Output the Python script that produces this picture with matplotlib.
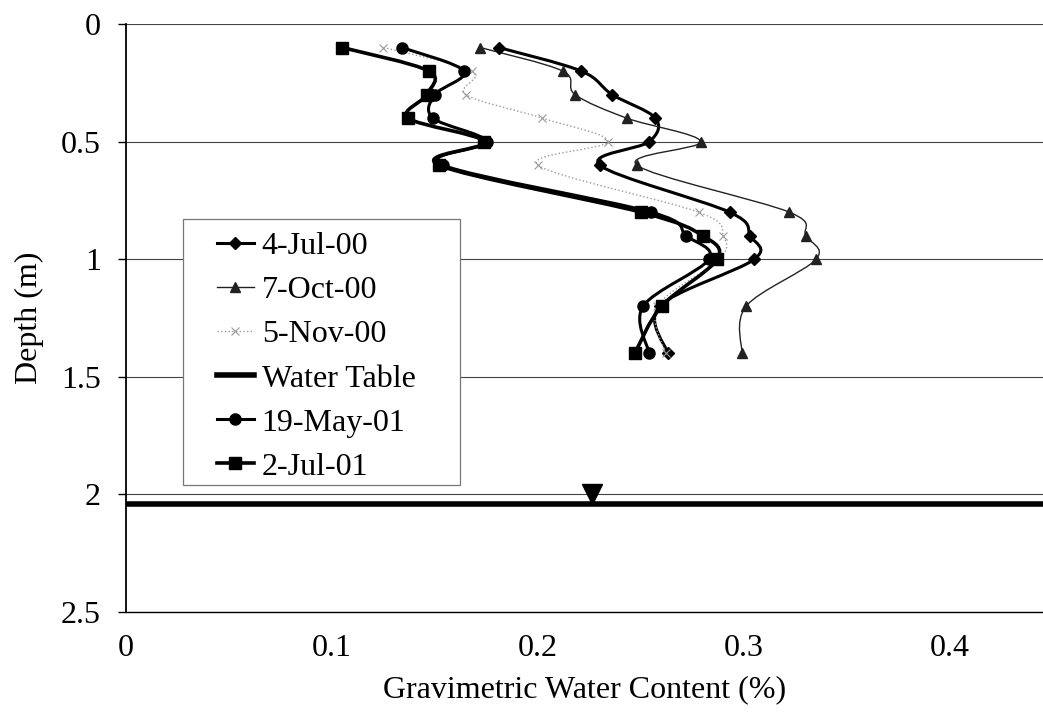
import matplotlib.pyplot as plt
import numpy as np
from matplotlib.path import Path
from matplotlib.patches import PathPatch, Rectangle
from matplotlib.lines import Line2D

plt.rcParams['font.family'] = ['Liberation Serif', 'DejaVu Serif']

# sampling depths (m) and gravimetric water content for each survey
depth = [0.1, 0.2, 0.3, 0.4, 0.5, 0.6, 0.8, 0.9, 1.0, 1.2, 1.4]
jul_00 = [0.181, 0.221, 0.236, 0.257, 0.254, 0.230, 0.293, 0.303, 0.305, 0.259, 0.263]
oct_00 = [0.172, 0.212, 0.218, 0.243, 0.279, 0.248, 0.322, 0.330, 0.335, 0.301, 0.299]
nov_00 = [0.125, 0.168, 0.165, 0.202, 0.234, 0.200, 0.278, 0.290, 0.288, 0.258, 0.262]
may_01 = [0.134, 0.164, 0.150, 0.149, 0.175, 0.154, 0.255, 0.272, 0.283, 0.251, 0.254]
jul_01 = [0.105, 0.147, 0.146, 0.137, 0.174, 0.152, 0.250, 0.280, 0.287, 0.260, 0.247]

water_table_depth = 2.04
water_table_symbol = (0.226, 2.0)

x_ticks = [0, 0.1, 0.2, 0.3, 0.4]
x_tick_labels = ['0', '0.1', '0.2', '0.3', '0.4']
y_ticks = [0, 0.5, 1, 1.5, 2, 2.5]
y_tick_labels = ['0', '0.5', '1', '1.5', '2', '2.5']


def smooth_path(x, y):
    # smoothed line through the points (Catmull-Rom as cubic Bezier segments)
    pts = np.column_stack([x, y])
    n = len(pts)
    verts = [pts[0]]
    codes = [Path.MOVETO]
    for i in range(n - 1):
        p0 = pts[max(i - 1, 0)]
        p1 = pts[i]
        p2 = pts[i + 1]
        p3 = pts[min(i + 2, n - 1)]
        verts += [p1 + (p2 - p0) / 6, p2 - (p3 - p1) / 6, p2]
        codes += [Path.CURVE4] * 3
    return Path(verts, codes)


series = [
    ('4-Jul-00', jul_00, dict(color='black', lw=2.2, ls='-'), dict(marker='D', ms=6)),
    ('7-Oct-00', oct_00, dict(color='#222222', lw=1.0, ls='-'), dict(marker='^', ms=7)),
    ('5-Nov-00', nov_00, dict(color='#9a9a9a', lw=1.0, ls=':'), dict(marker='x', ms=6, mew=0.8)),
    ('19-May-01', may_01, dict(color='black', lw=2.2, ls='-'), dict(marker='o', ms=8)),
    ('2-Jul-01', jul_01, dict(color='black', lw=2.6, ls='-'), dict(marker='s', ms=8)),
]

fig = plt.figure(figsize=(10.43, 7.17), dpi=100)
ax = fig.add_axes([0.1208, 0.1464, 0.8888, 0.8201])

handles = {}
for name, values, line_kw, mark_kw in series:
    patch = PathPatch(smooth_path(values, depth), facecolor='none', edgecolor=line_kw['color'],
                      lw=line_kw['lw'], ls=line_kw['ls'], zorder=3)
    ax.add_patch(patch)
    ax.plot(values, depth, ls='none', color=line_kw['color'], zorder=4, **mark_kw)
    handles[name] = Line2D([], [], color=line_kw['color'], lw=line_kw['lw'], ls=line_kw['ls'],
                           **mark_kw)

# water table
ax.axhline(water_table_depth, color='black', lw=4, zorder=3)
ax.plot([water_table_symbol[0]], [water_table_symbol[1]], ls='none', marker='v', ms=14,
        color='black', zorder=4)
handles['Water Table'] = Line2D([], [], color='black', lw=4)

ax.set_xlim(0, 0.45)
ax.set_ylim(2.5, 0)
ax.set_xticks(x_ticks)
ax.set_xticklabels(x_tick_labels)
ax.set_yticks(y_ticks)
ax.set_yticklabels(y_tick_labels)
ax.tick_params(axis='x', length=0, pad=16, labelsize=23)
ax.tick_params(axis='y', direction='out', length=6, width=1, pad=12, labelsize=23)
ax.yaxis.grid(True, color='#444444', lw=0.8)
ax.set_axisbelow(True)
for s in ['top', 'right']:
    ax.spines[s].set_visible(False)
ax.spines['left'].set_linewidth(1.3)
ax.spines['bottom'].set_linewidth(1.0)

ax.set_xlabel('Gravimetric Water Content (%)', fontsize=23)
ax.xaxis.set_label_coords(0.495, -0.108)
ax.set_ylabel('Depth (m)', fontsize=23)
ax.yaxis.set_label_coords(-0.088, 0.5)

# legend box
frame = Rectangle((183 / 1043, 1 - 485 / 717), 277 / 1043, 266 / 717, transform=fig.transFigure,
                  facecolor='white', edgecolor='#777777', lw=0.9, zorder=5)
fig.add_artist(frame)
order = ['4-Jul-00', '7-Oct-00', '5-Nov-00', 'Water Table', '19-May-01', '2-Jul-01']
leg = fig.legend([handles[k] for k in order], order, loc='upper left',
                 bbox_to_anchor=(217 / 1043, 1 - 232 / 717), frameon=False, fontsize=23,
                 borderpad=0, borderaxespad=0, handlelength=1.15, handletextpad=0.25,
                 labelspacing=0.46)
leg.set_zorder(6)

fig.savefig('out.png', dpi=100)
